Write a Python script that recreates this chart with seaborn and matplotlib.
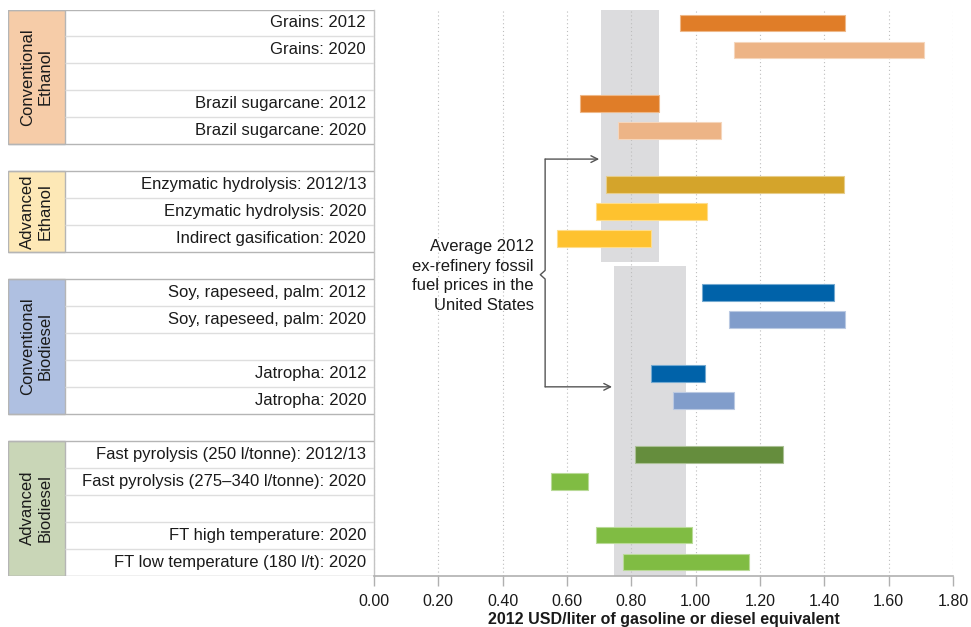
import numpy as np
import pandas as pd
import matplotlib.pyplot as plt
from matplotlib.patches import Rectangle
import matplotlib.colors as mcolors
import seaborn as sns

# Row layout, top to bottom ("" = spacer row)
rows = ["Grains: 2012", "Grains: 2020", "", "Brazil sugarcane: 2012", "Brazil sugarcane: 2020",
        "",
        "Enzymatic hydrolysis: 2012/13", "Enzymatic hydrolysis: 2020", "Indirect gasification: 2020",
        "",
        "Soy, rapeseed, palm: 2012", "Soy, rapeseed, palm: 2020", "", "Jatropha: 2012", "Jatropha: 2020",
        "",
        "Fast pyrolysis (250 l/tonne): 2012/13", "Fast pyrolysis (275–340 l/tonne): 2020", "",
        "FT high temperature: 2020", "FT low temperature (180 l/t): 2020"]
row_group = ["CE"] * 5 + [""] + ["AE"] * 3 + [""] + ["CB"] * 5 + [""] + ["AB"] * 5

group_keys = ["CE", "AE", "CB", "AB"]
group_names = ["Conventional\nEthanol", "Advanced\nEthanol", "Conventional\nBiodiesel", "Advanced\nBiodiesel"]
group_colors = ["#F6CCA8", "#FDE8B6", "#AFC0E1", "#C9D6B7"]

# Cost ranges (2012 USD/liter)
pathways = ["Grains: 2012", "Grains: 2020", "Brazil sugarcane: 2012", "Brazil sugarcane: 2020",
            "Enzymatic hydrolysis: 2012/13", "Enzymatic hydrolysis: 2020", "Indirect gasification: 2020",
            "Soy, rapeseed, palm: 2012", "Soy, rapeseed, palm: 2020", "Jatropha: 2012", "Jatropha: 2020",
            "Fast pyrolysis (250 l/tonne): 2012/13", "Fast pyrolysis (275–340 l/tonne): 2020",
            "FT high temperature: 2020", "FT low temperature (180 l/t): 2020"]
cost_low = [0.95, 1.12, 0.64, 0.76, 0.72, 0.69, 0.57, 1.02, 1.105, 0.86, 0.93, 0.81, 0.55, 0.69, 0.775]
cost_high = [1.465, 1.71, 0.885, 1.08, 1.46, 1.035, 0.86, 1.43, 1.465, 1.03, 1.12, 1.27, 0.665, 0.99, 1.165]
shade = ["eth12", "eth20", "eth12", "eth20", "adv12", "adv20", "adv20",
         "bio12", "bio20", "bio12", "bio20", "abd12", "abd20", "abd20", "abd20"]
palette = {"eth12": "#E07D28", "eth20": "#EDB486", "adv12": "#D4A42B", "adv20": "#FEC22F",
           "bio12": "#0062A9", "bio20": "#819DCB", "abd12": "#658D3D", "abd20": "#80BC43"}

# Average 2012 ex-refinery fossil fuel prices (gasoline, diesel)
fossil_low = [0.705, 0.745]
fossil_high = [0.885, 0.97]

xticks = [0.0, 0.2, 0.4, 0.6, 0.8, 1.0, 1.2, 1.4, 1.6, 1.8]

sns.set_theme(style="white")
plt.rcParams['font.family'] = ['Liberation Sans', 'DejaVu Sans']

order = [r if r else f"_gap{i}" for i, r in enumerate(rows)]
df = pd.DataFrame({"pathway": pathways, "low": cost_low, "high": cost_high, "shade": shade})

fig = plt.figure(figsize=(9.71, 6.27), dpi=100)
bottom = (627 - 575.5) / 627
height = 566 / 627
ax = fig.add_axes([374 / 971, bottom, 579 / 971, height])
axt = fig.add_axes([8 / 971, bottom, 366 / 971, height])

sns.barplot(data=df, x="high", y="pathway", order=order, hue="shade", palette=palette,
            dodge=False, legend=False, width=0.62, saturation=1, errorbar=None, ax=ax, zorder=3)

# turn bars into ranges
low_map = dict(zip(pathways, cost_low))
high_map = dict(zip(pathways, cost_high))
for p in list(ax.patches):
    if p.get_height() <= 0 or not np.isfinite(p.get_width()):
        continue
    idx = int(round(p.get_y() + p.get_height() / 2))
    name = order[idx]
    if name not in low_map:
        continue
    p.set_x(low_map[name])
    p.set_width(high_map[name] - low_map[name])
    fc = np.array(mcolors.to_rgb(p.get_facecolor()))
    p.set_edgecolor(fc + (1 - fc) * 0.45)
    p.set_linewidth(0.8)

# fossil price bands (gasoline for ethanol rows, diesel for biodiesel rows)
ax.add_patch(Rectangle((fossil_low[0], -0.5), fossil_high[0] - fossil_low[0], 9.35,
                       facecolor="#DCDCDE", lw=0, zorder=0.5))
ax.add_patch(Rectangle((fossil_low[1], 9.0), fossil_high[1] - fossil_low[1], 11.5,
                       facecolor="#DCDCDE", lw=0, zorder=0.5))
for v in xticks:
    ax.axvline(v, color="#bdbdbd", lw=0.8, ls=(0, (1, 2.5)), zorder=1)

ax.set_xlim(0, 1.8)
ax.set_ylim(20.5, -0.5)
ax.set_yticks([])
ax.set_ylabel("")
ax.set_xticks(xticks)
ax.set_xticklabels([f"{v:.2f}" for v in xticks])
ax.tick_params(axis="x", bottom=True, length=7, width=1, color="#b0b0b0", pad=6,
               labelsize=11.5, labelcolor="#1a1a1a")
ax.set_xlabel("2012 USD/liter of gasoline or diesel equivalent", fontsize=11.5,
              fontweight="bold", color="#1a1a1a")
ax.xaxis.set_label_coords(0.5, -0.064)
for s in ["top", "right"]:
    ax.spines[s].set_visible(False)
ax.spines["left"].set_color("#c4c4c4")
ax.spines["left"].set_linewidth(1)
ax.spines["bottom"].set_color("#b0b0b0")
ax.spines["bottom"].set_linewidth(1.2)

# annotation with bracket
bx = 0.532
ax.plot([bx, bx, 0.517, bx, bx], [5.05, 9.18, 9.34, 9.5, 13.5], color="#555555", lw=1, zorder=4)
ax.annotate("", xy=(fossil_low[0] - 0.005, 5.05), xytext=(bx, 5.05),
            arrowprops=dict(arrowstyle="->", color="#555555", lw=1, shrinkA=0, shrinkB=0))
ax.annotate("", xy=(fossil_low[1] - 0.005, 13.5), xytext=(bx, 13.5),
            arrowprops=dict(arrowstyle="->", color="#555555", lw=1, shrinkA=0, shrinkB=0))
ax.text(0.497, 9.39, "Average 2012\nex-refinery fossil\nfuel prices in the\nUnited States",
        ha="right", va="center", fontsize=12, linespacing=1.4, multialignment="right",
        color="#1a1a1a", zorder=5)

# left table with group boxes and row labels
axt.set_xlim(0, 366)
axt.set_ylim(20.5, -0.5)
axt.axis("off")
for key, gname, gcol in zip(group_keys, group_names, group_colors):
    idx = [i for i, g in enumerate(row_group) if g == key]
    top, bot = min(idx) - 0.5, max(idx) + 0.5
    axt.add_patch(Rectangle((0, top), 57, bot - top, facecolor=gcol, edgecolor="#b5b5b5", lw=1))
    axt.hlines([top, bot], 0, 366, color="#b5b5b5", lw=1)
    axt.hlines([k + 0.5 for k in idx[:-1]], 57, 366, color="#dedede", lw=1)
    axt.text(28.5, (top + bot) / 2, gname, rotation=90, ha="center", va="center",
             fontsize=12, linespacing=1.25, color="#1a1a1a")
for i, label in enumerate(rows):
    if label:
        axt.text(358, i, label, ha="right", va="center", fontsize=12, color="#1a1a1a")

fig.savefig("out.png", dpi=100)
